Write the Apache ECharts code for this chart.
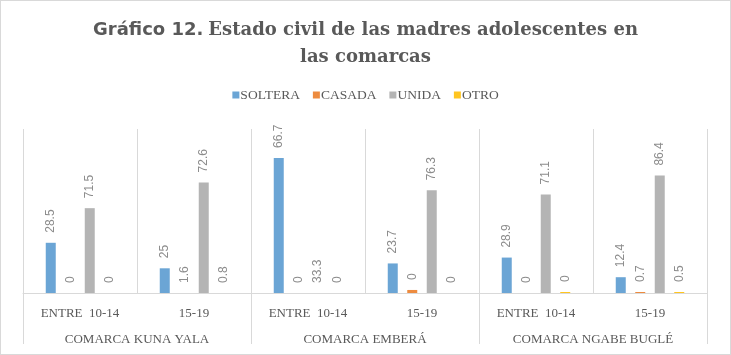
<!DOCTYPE html>
<html><head><meta charset="utf-8">
<script src="https://cdn.jsdelivr.net/npm/echarts@6/dist/echarts.min.js"></script>
<style>html,body{margin:0;padding:0;background:#fff}#c{width:731px;height:355px;box-sizing:border-box;border:1px solid #d9d9d9}</style>
</head><body><div id="c"></div>
<script>
var titleLine1a = 'Gráfico 12.';
var titleLine1b = 'Estado civil de las madres adolescentes en';
var titleLine2 = 'las comarcas';
var ageGroups = ['ENTRE  10-14', '15-19', 'ENTRE  10-14', '15-19', 'ENTRE  10-14', '15-19'];
var comarcas = ['COMARCA KUNA YALA', 'COMARCA EMBERÁ', 'COMARCA NGABE BUGLÉ'];
var seriesNames = ['SOLTERA', 'CASADA', 'UNIDA', 'OTRO'];
// bar heights as drawn in the picture
var soltera = [24.8, 12.2, 66.7, 14.6, 17.5, 7.8];
var casada  = [0, 0, 0, 1.5, 0, 0.5];
var unida   = [41.9, 54.6, 0, 50.7, 48.7, 58.0];
var otro    = [0, 0, 0, 0, 0.5, 0.5];
// data label texts as printed in the picture
var solteraLbl = ['28.5', '25', '66.7', '23.7', '28.9', '12.4'];
var casadaLbl  = ['0', '1.6', '0', '0', '0', '0.7'];
var unidaLbl   = ['71.5', '72.6', '33.3', '76.3', '71.1', '86.4'];
var otroLbl    = ['0', '0.8', '0', '0', '0', '0.5'];
var colors = ['#6ba5d5', '#ed8b3f', '#b4b4b4', '#ffc520'];

var values = [soltera, casada, unida, otro];
var labels = [solteraLbl, casadaLbl, unidaLbl, otroLbl];

var chart = echarts.init(document.getElementById('c'));
var richT = {
  a: {fontFamily: 'DejaVu Sans', fontWeight: 'bold', fontSize: 18, color: '#595959'},
  b: {fontFamily: 'DejaVu Serif', fontWeight: 'bold', fontSize: 18, color: '#595959'}
};
chart.setOption({
  animation: false,
  title: [{
    text: '{a|' + titleLine1a + '} {b|' + titleLine1b + '}',
    left: 'center', top: 20, padding: 0,
    textStyle: {rich: richT}
  }, {
    text: '{b|' + titleLine2 + '}',
    left: 'center', top: 47, padding: 0,
    textStyle: {rich: richT}
  }],
  legend: {
    top: 82, left: 'center', itemWidth: 7, itemHeight: 7, itemGap: 13,
    icon: 'rect',
    textStyle: {fontFamily: 'Liberation Serif', fontSize: 13.5, color: '#595959', padding: [0, 0, 0, -4]},
    data: seriesNames
  },
  grid: {left: 22, right: 23, top: 128, bottom: 61},
  xAxis: [{
    type: 'category', data: ageGroups,
    axisLine: {lineStyle: {color: '#d9d9d9'}},
    axisTick: {show: false},
    splitLine: {show: true, lineStyle: {color: '#d9d9d9'}},
    axisLabel: {fontFamily: 'Liberation Serif', fontSize: 13, color: '#595959', margin: 14}
  }, {
    type: 'category', data: comarcas, position: 'bottom',
    axisLine: {show: false},
    axisTick: {show: true, length: 51, lineStyle: {color: '#d9d9d9'}},
    axisLabel: {fontFamily: 'Liberation Serif', fontSize: 13, color: '#595959', margin: 40}
  }],
  yAxis: {type: 'value', min: 0, max: 81, show: false, splitLine: {show: false}},
  series: seriesNames.map(function (n, i) {
    return {
      name: n, type: 'bar', xAxisIndex: 0,
      barWidth: 10, barGap: '95%',
      itemStyle: {color: colors[i]},
      label: {
        show: true, position: 'top', rotate: 90, distance: 10,
        align: 'left', verticalAlign: 'middle',
        fontFamily: 'Liberation Sans', fontSize: 12, color: '#8c8c8c',
        formatter: function (p) { return labels[i][p.dataIndex]; }
      },
      data: values[i]
    };
  })
});
</script></body></html>
